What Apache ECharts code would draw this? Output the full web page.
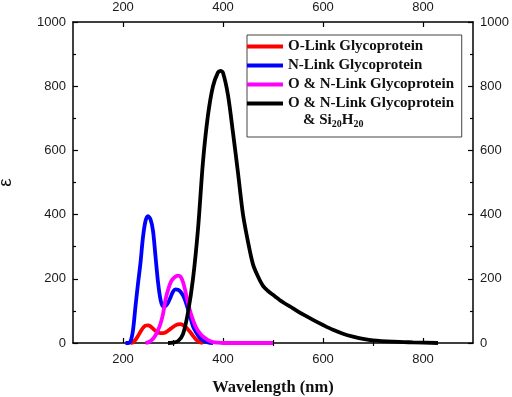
<!DOCTYPE html>
<html>
<head>
<meta charset="utf-8">
<script src="https://cdn.jsdelivr.net/npm/echarts@6/dist/echarts.min.js"></script>
<style>html,body{margin:0;padding:0;background:#fff}#c{width:512px;height:397px}</style>
</head>
<body>
<div id="c"></div>
<script>
const seriesNames = ['O-Link Glycoprotein', 'N-Link Glycoprotein', 'O & N-Link Glycoprotein', 'O & N-Link Glycoprotein '];
const xTickLabels = [200, 400, 600, 800];
const xMinorTicks = [300, 500, 700];

const oLinkX = [215,220,225,230,235,240,245,250,255,260,265,270,275,280,285,290,295,300,305,310,315,320,325,330,335,340,345,350,355,360];
const oLinkY = [0,2,10,22,35,47,54,55,52,45,38,33,31,31,33,38,44,50,55,58,59,56,50,42,33,22,13,6,2,0];

const nLinkX = [205,210,215,220,225,230,235,240,245,250,255,260,265,270,275,280,285,290,295,300,305,310,315,320,325,330,335,340,345,350,355,360,370,380];
const nLinkY = [0,0,5,40,115,185,250,330,380,395,385,350,270,190,135,114,115,125,142,160,167,166,160,148,130,105,78,52,36,24,14,8,2,0];

const onLinkX = [245,250,255,260,265,270,275,280,285,290,295,300,305,310,315,320,325,330,335,340,345,350,355,360,370,380,390,400,450,500];
const onLinkY = [0,2,6,13,24,40,60,90,135,165,188,200,207,210,207,190,160,125,95,72,52,38,28,20,9,3,1,0,0,0];

const onSiX = [290,300,310,320,330,340,350,360,370,380,390,395,400,410,420,430,440,450,460,470,480,490,500,520,540,560,580,600,620,640,660,680,700,740,780,830];
const onSiY = [0,1,6,28,95,200,355,565,710,800,843,848,842,772,655,530,400,315,245,207,178,162,150,127,108,89,72,56,41,29,20,13,8,4,2,0];

const colors = ['#ff0000', '#0000ff', '#ff00ff', '#000000'];

function pairs(xs, ys) { return xs.map((x, i) => [x, ys[i]]); }

const chart = echarts.init(document.getElementById('c'));
const labelFont = { color: '#1a1a1a', fontSize: 13, fontFamily: 'Liberation Sans, Arial, sans-serif', formatter: v => String(v) };
const axisLine = { show: true, onZero: false, lineStyle: { color: '#000', width: 1.5 } };

function xAx(pos, major) {
  return {
    type: 'value', position: pos, min: 100, max: 900, interval: 100,
    axisLine: major ? axisLine : { show: false },
    axisTick: { show: true, inside: true, length: major ? 5 : 3, lineStyle: { color: '#000', width: 1.2 },
      customValues: major ? xTickLabels : xMinorTicks },
    axisLabel: major ? Object.assign({ show: true, margin: pos === 'bottom' ? 10 : 8, customValues: xTickLabels }, labelFont) : { show: false },
    splitLine: { show: false },
    name: (major && pos === 'bottom') ? 'Wavelength (nm)' : '',
    nameLocation: 'middle', nameGap: 36,
    nameTextStyle: { fontFamily: 'Liberation Serif, Times New Roman, serif', fontWeight: 'bold', fontSize: 16.5, color: '#111' }
  };
}
function yAx(pos) {
  return {
    type: 'value', position: pos, min: 0, max: 1000, interval: 200,
    axisLine: axisLine,
    axisTick: { show: true, inside: true, length: 5, lineStyle: { color: '#000', width: 1.2 } },
    minorTick: { show: true, splitNumber: 2, length: 3, lineStyle: { color: '#000', width: 1.2 } },
    axisLabel: Object.assign({ show: true, margin: 7 }, labelFont),
    splitLine: { show: false },
    name: pos === 'left' ? 'ε' : '',
    nameLocation: 'middle', nameGap: 58, nameRotate: 90,
    nameTextStyle: { fontFamily: 'Liberation Sans, Arial, sans-serif', fontSize: 19, color: '#111' }
  };
}

const xs = [oLinkX, nLinkX, onLinkX, onSiX];
const ys = [oLinkY, nLinkY, onLinkY, onSiY];

chart.setOption({
  animation: false,
  backgroundColor: '#fff',
  grid: { left: 73, right: 39, top: 22, bottom: 54, containLabel: false, outerBoundsMode: 'none' },
  xAxis: [xAx('bottom', true), xAx('top', true), xAx('bottom', false), xAx('top', false)],
  yAxis: [yAx('left'), yAx('right')],
  legend: {
    orient: 'vertical', left: 247, top: 35,
    padding: [4, 4, 26, 0],
    borderColor: '#444', borderWidth: 1, backgroundColor: '#fff',
    itemWidth: 36, itemHeight: 15, itemGap: 4,
    textStyle: { fontFamily: 'Liberation Serif, Times New Roman, serif', fontWeight: 'bold', fontSize: 15, color: '#111', lineHeight: 15 },
    data: seriesNames.map(n => ({ name: n, icon: 'path://M0,0 L36,0 L36,4 L0,4 Z' }))
  },
  graphic: [{
    type: 'text', left: 303, top: 113, z: 100,
    style: {
      text: '& Si{sub|20}H{sub|20}',
      font: 'bold 15px Liberation Serif',
      fill: '#111',
      rich: { sub: { fontSize: 10, fontWeight: 'bold', fontFamily: 'Liberation Serif', fill: '#111', padding: [8, 0, 0, 0] } }
    }
  }],
  series: seriesNames.map((n, i) => ({
    name: n, type: 'line', smooth: 0.3, showSymbol: false, symbol: 'none',
    xAxisIndex: 0, yAxisIndex: 0,
    color: colors[i],
    lineStyle: { color: colors[i], width: 3.8 },
    itemStyle: { color: colors[i] },
    data: pairs(xs[i], ys[i]),
    z: 2 + i
  }))
});
</script>
</body>
</html>
